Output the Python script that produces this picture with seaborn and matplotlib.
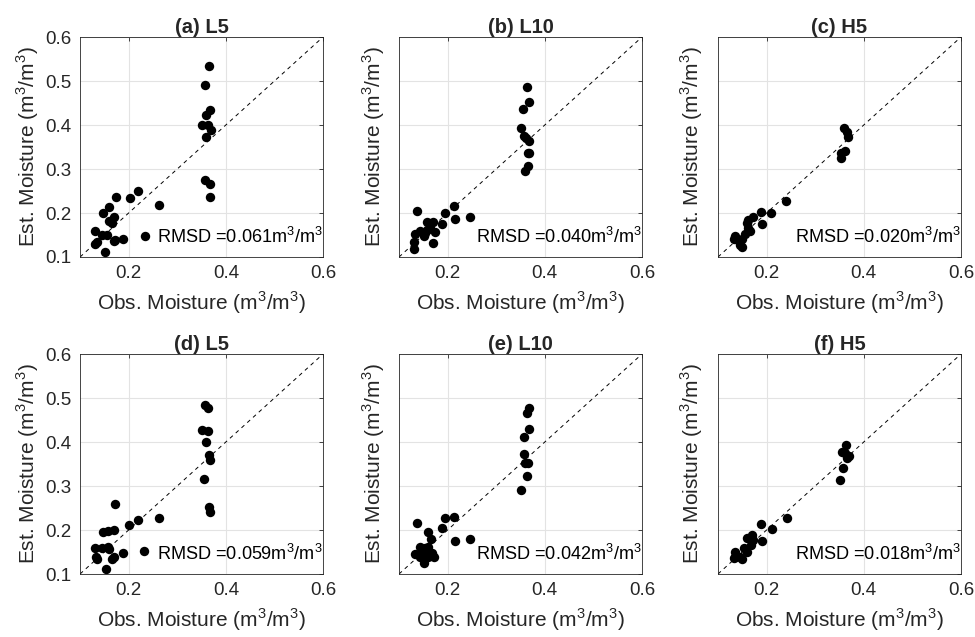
import matplotlib
matplotlib.use('Agg')
import matplotlib.pyplot as plt
import seaborn as sns
import pandas as pd

# panel titles and RMSD values
titles = ['(a) L5', '(b) L10', '(c) H5', '(d) L5', '(e) L10', '(f) H5']
rmsd = ['0.061', '0.040', '0.020', '0.059', '0.042', '0.018']

obs_a = [0.366, 0.358, 0.368, 0.359, 0.351, 0.364, 0.370, 0.360, 0.357, 0.368, 0.368,
         0.219, 0.202, 0.173, 0.263, 0.159, 0.148, 0.160, 0.170, 0.166, 0.131, 0.145,
         0.156, 0.134, 0.130, 0.169, 0.172, 0.188, 0.233, 0.152]
est_a = [0.533, 0.491, 0.434, 0.423, 0.399, 0.399, 0.389, 0.372, 0.275, 0.266, 0.237,
         0.250, 0.233, 0.237, 0.219, 0.214, 0.201, 0.182, 0.191, 0.178, 0.159, 0.151,
         0.151, 0.134, 0.130, 0.136, 0.138, 0.142, 0.147, 0.111]

obs_b = [0.363, 0.368, 0.356, 0.351, 0.357, 0.361, 0.368, 0.365, 0.368, 0.365, 0.359,
         0.136, 0.213, 0.195, 0.215, 0.246, 0.188, 0.158, 0.169, 0.163, 0.174, 0.143,
         0.132, 0.151, 0.153, 0.131, 0.170, 0.131, 0.158]
est_b = [0.487, 0.453, 0.436, 0.393, 0.374, 0.370, 0.364, 0.337, 0.336, 0.307, 0.296,
         0.205, 0.216, 0.199, 0.187, 0.190, 0.174, 0.180, 0.180, 0.165, 0.157, 0.159,
         0.153, 0.147, 0.155, 0.133, 0.132, 0.118, 0.161]

obs_c = [0.360, 0.365, 0.368, 0.361, 0.354, 0.353, 0.240, 0.188, 0.209, 0.190, 0.173,
         0.162, 0.159, 0.166, 0.156, 0.149, 0.142, 0.132, 0.134, 0.145, 0.149, 0.162]
est_c = [0.394, 0.385, 0.372, 0.342, 0.336, 0.324, 0.228, 0.203, 0.199, 0.174, 0.192,
         0.184, 0.177, 0.158, 0.152, 0.142, 0.139, 0.141, 0.148, 0.127, 0.122, 0.165]

obs_d = [0.357, 0.364, 0.350, 0.364, 0.359, 0.366, 0.367, 0.356, 0.366, 0.367,
         0.172, 0.201, 0.219, 0.263, 0.148, 0.158, 0.169, 0.131, 0.145, 0.158, 0.132,
         0.134, 0.169, 0.165, 0.188, 0.232, 0.153, 0.160]
est_d = [0.484, 0.477, 0.427, 0.425, 0.399, 0.370, 0.359, 0.316, 0.253, 0.242,
         0.259, 0.211, 0.223, 0.227, 0.195, 0.198, 0.200, 0.158, 0.158, 0.162, 0.138,
         0.133, 0.138, 0.133, 0.148, 0.153, 0.111, 0.156]

obs_e = [0.368, 0.364, 0.368, 0.357, 0.357, 0.359, 0.366, 0.364, 0.352,
         0.136, 0.195, 0.214, 0.188, 0.159, 0.165, 0.215, 0.246, 0.143, 0.153, 0.160,
         0.133, 0.147, 0.157, 0.167, 0.173, 0.160, 0.143, 0.152]
est_e = [0.477, 0.467, 0.430, 0.411, 0.373, 0.352, 0.353, 0.323, 0.291,
         0.215, 0.227, 0.230, 0.204, 0.196, 0.179, 0.176, 0.179, 0.161, 0.158, 0.162,
         0.145, 0.147, 0.151, 0.147, 0.138, 0.139, 0.138, 0.124]

obs_f = [0.364, 0.355, 0.362, 0.369, 0.365, 0.357, 0.352, 0.241, 0.211, 0.189, 0.190,
         0.170, 0.160, 0.172, 0.167, 0.153, 0.160, 0.134, 0.136, 0.146, 0.149, 0.132]
est_f = [0.394, 0.378, 0.375, 0.369, 0.363, 0.342, 0.314, 0.227, 0.202, 0.213, 0.174,
         0.189, 0.181, 0.177, 0.166, 0.158, 0.151, 0.149, 0.139, 0.139, 0.133, 0.136]

obs_all = [obs_a, obs_b, obs_c, obs_d, obs_e, obs_f]
est_all = [est_a, est_b, est_c, est_d, est_e, est_f]

sns.set_style('white')
plt.rcParams['font.family'] = ['Liberation Sans', 'DejaVu Sans']
plt.rcParams['mathtext.fontset'] = 'custom'
plt.rcParams['mathtext.rm'] = 'Liberation Sans'

axcol = '#262626'
fig, axes = plt.subplots(2, 3, figsize=(9.75, 6.37), dpi=100)
fig.subplots_adjust(left=0.0821, right=0.9856, top=0.9419, bottom=0.0989,
                    wspace=0.3128, hspace=0.441)

for i, ax in enumerate(axes.flat):
    df = pd.DataFrame({'obs': obs_all[i], 'est': est_all[i]})
    ax.plot([0.1, 0.6], [0.1, 0.6], color='black', linestyle='--',
            linewidth=0.7, dashes=(4, 4), zorder=1)
    sns.scatterplot(data=df, x='obs', y='est', ax=ax, color='black',
                    s=46, edgecolor='black', linewidth=0, zorder=3)
    ax.set_xlim(0.1, 0.6)
    ax.set_ylim(0.1, 0.6)
    ax.set_xticks([0.2, 0.4, 0.6])
    ax.set_yticks([0.1, 0.2, 0.3, 0.4, 0.5, 0.6])
    ax.set_xticklabels(['0.2', '0.4', '0.6'])
    if i % 3 == 0:
        ax.set_yticklabels(['0.1', '0.2', '0.3', '0.4', '0.5', '0.6'])
    else:
        ax.set_yticklabels([])
    ax.grid(True, color='#e3e3e3', linewidth=0.8)
    ax.set_axisbelow(True)
    ax.tick_params(direction='in', length=3, width=0.6, colors=axcol,
                   labelsize=13.5, top=True, right=True, pad=6)
    for sp in ax.spines.values():
        sp.set_color(axcol)
        sp.set_linewidth(0.6)
    ax.set_xlabel('Obs. Moisture (m$^3$/m$^3$)', fontsize=15, color=axcol, labelpad=5)
    ax.set_ylabel('Est. Moisture (m$^3$/m$^3$)', fontsize=15, color=axcol, labelpad=3)
    ax.set_title(titles[i], fontsize=14.5, fontweight='bold', pad=3)
    ax.text(0.6, 0.145, 'RMSD =' + rmsd[i] + 'm$^3$/m$^3$', ha='right', va='center',
            fontsize=13.1, color='black', zorder=4)

plt.savefig('out.png', dpi=100)
